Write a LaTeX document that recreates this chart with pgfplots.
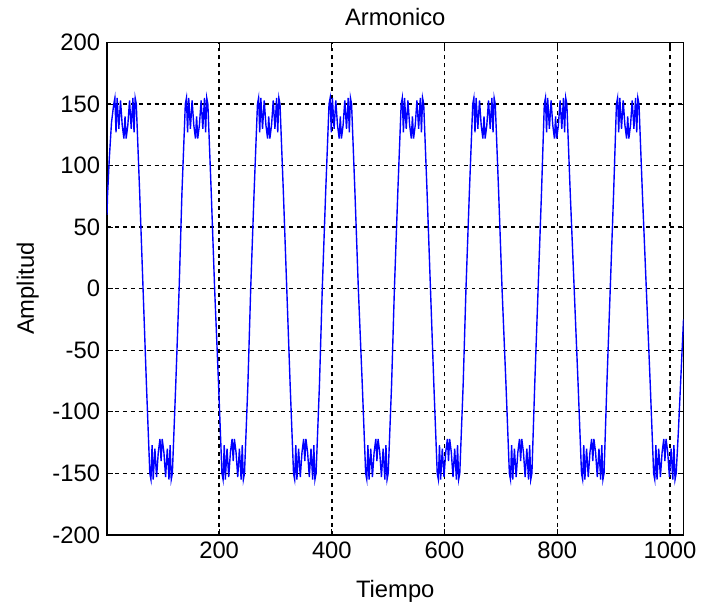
\documentclass[border=0pt]{standalone}
\usepackage{fontspec}
\setmainfont{Liberation Sans}
\usepackage{pgfplots}
\pgfplotsset{compat=1.18}

\begin{document}
\begin{tikzpicture}
\begin{axis}[
    scale only axis,
    width=291bp,
    height=248.5bp,
    xmin=1, xmax=1024,
    ymin=-200, ymax=200,
    xtick={200,400,600,800,1000},
    ytick={-200,-150,...,200},
    tick align=inside,
    tick pos=both,
    major tick length=3bp,
    grid=major,
    grid style={black, line width=0.7pt, dash pattern=on 2bp off 2bp},
    axis line style={line width=0.8pt},
    every tick/.style={black, line width=0.6pt},
    /pgf/number format/assume math mode=true,
    /pgf/number format/1000 sep={},
    tick label style={font=\fontsize{12bp}{14bp}\selectfont},
    label style={font=\fontsize{12bp}{14bp}\selectfont},
    xlabel style={yshift=-4bp},
    title style={font=\fontsize{12bp}{14bp}\selectfont, yshift=-1bp},
    title={Armonico},
    xlabel={Tiempo},
    ylabel={Amplitud},
    clip=false,
]
\path (rel axis cs:-0.1856,-0.1469) rectangle (rel axis cs:1.0223,1.0865);
\begin{scope}
\clip (rel axis cs:0,0) rectangle (rel axis cs:1,1);
\addplot[color={rgb,255:red,0;green,0;blue,255}, line width=0.7bp, mark=none] coordinates {
(1,60) (2,76) (5,105) (9,135)
(13,150) (15,155) (17,127) (19,155) (22,130) (25,153) (28,133) (31,122) (33,140) (35,122) (38,133) (41,153) (44,130) (47,155) (49,127) (51,155) (53,150)
(59,78) (65,0) (71,-78)
(77,-150) (79,-155) (81,-127) (83,-155) (86,-130) (89,-153) (92,-133) (95,-122) (97,-140) (99,-122) (102,-133) (105,-153) (108,-130) (111,-155) (113,-127) (115,-155) (117,-150)
(123,-78) (129,0) (134,78)
(140,150) (142,155) (144,127) (146,155) (149,130) (152,153) (155,133) (158,122) (160,140) (162,122) (165,133) (168,153) (171,130) (174,155) (176,127) (178,155) (180,150)
(186,78) (192,0) (199,-78)
(205,-150) (207,-155) (209,-127) (211,-155) (214,-130) (217,-153) (220,-133) (223,-122) (225,-140) (227,-122) (230,-133) (233,-153) (236,-130) (239,-155) (241,-127) (243,-155) (245,-150)
(251,-78) (256,0) (262,78)
(268,150) (270,155) (272,127) (274,155) (277,130) (280,153) (283,133) (286,122) (288,140) (290,122) (293,133) (296,153) (299,130) (302,155) (304,127) (306,155) (308,150)
(314,78) (320,0) (326,-78)
(332,-150) (334,-155) (336,-127) (338,-155) (341,-130) (344,-153) (347,-133) (350,-122) (352,-140) (354,-122) (357,-133) (360,-153) (363,-130) (366,-155) (368,-127) (370,-155) (372,-150)
(378,-78) (383,0) (389,78)
(395,150) (397,155) (399,127) (401,155) (404,130) (407,153) (410,133) (413,122) (415,140) (417,122) (420,133) (423,153) (426,130) (429,155) (431,127) (433,155) (435,150)
(441,78) (447,0) (454,-78)
(460,-150) (462,-155) (464,-127) (466,-155) (469,-130) (472,-153) (475,-133) (478,-122) (480,-140) (482,-122) (485,-133) (488,-153) (491,-130) (494,-155) (496,-127) (498,-155) (500,-150)
(506,-78) (511,0) (517,78)
(523,150) (525,155) (527,127) (529,155) (532,130) (535,153) (538,133) (541,122) (543,140) (545,122) (548,133) (551,153) (554,130) (557,155) (559,127) (561,155) (563,150)
(569,78) (575,0) (581,-78)
(587,-150) (589,-155) (591,-127) (593,-155) (596,-130) (599,-153) (602,-133) (605,-122) (607,-140) (609,-122) (612,-133) (615,-153) (618,-130) (621,-155) (623,-127) (625,-155) (627,-150)
(633,-78) (638,0) (644,78)
(650,150) (652,155) (654,127) (656,155) (659,130) (662,153) (665,133) (668,122) (670,140) (672,122) (675,133) (678,153) (681,130) (684,155) (686,127) (688,155) (690,150)
(696,78) (702,0) (709,-78)
(715,-150) (717,-155) (719,-127) (721,-155) (724,-130) (727,-153) (730,-133) (733,-122) (735,-140) (737,-122) (740,-133) (743,-153) (746,-130) (749,-155) (751,-127) (753,-155) (755,-150)
(760,-78) (766,0) (772,78)
(777,150) (779,155) (781,127) (783,155) (786,130) (789,153) (792,133) (795,122) (797,140) (799,122) (802,133) (805,153) (808,130) (811,155) (813,127) (815,155) (817,150)
(823,78) (830,0) (837,-78)
(843,-150) (845,-155) (847,-127) (849,-155) (852,-130) (855,-153) (858,-133) (861,-122) (863,-140) (865,-122) (868,-133) (871,-153) (874,-130) (877,-155) (879,-127) (881,-155) (883,-150)
(888,-78) (894,0) (900,78)
(905,150) (907,155) (909,127) (911,155) (914,130) (917,153) (920,133) (923,122) (925,140) (927,122) (930,133) (933,153) (936,130) (939,155) (941,127) (943,155) (945,150)
(951,78) (958,0) (965,-78)
(971,-150) (973,-155) (975,-127) (977,-155) (980,-130) (983,-153) (986,-133) (989,-122) (991,-140) (993,-122) (996,-133) (999,-153) (1002,-130) (1005,-155) (1007,-127) (1009,-155) (1011,-150)
(1015,-115) (1019,-75) (1024,-25)
};
\end{scope}
\end{axis}
\end{tikzpicture}
\end{document}
